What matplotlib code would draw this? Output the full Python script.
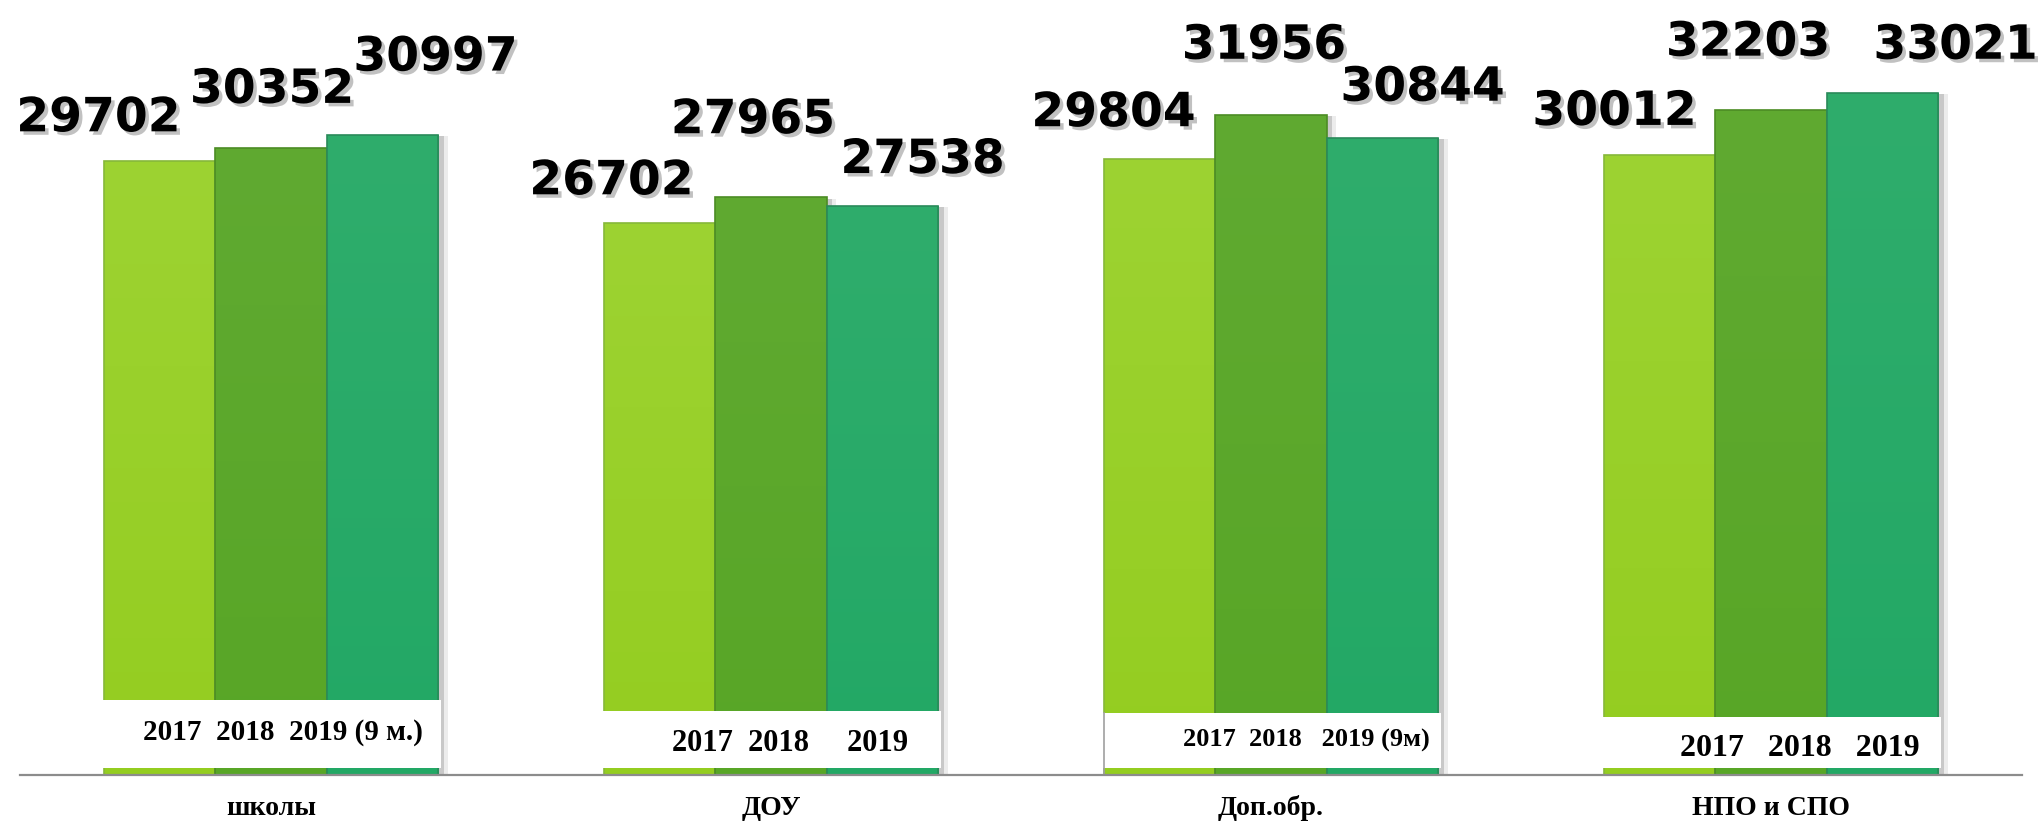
import matplotlib
matplotlib.use("Agg")
import matplotlib.pyplot as plt
import matplotlib.patheffects as pe
from matplotlib.patches import Rectangle
from matplotlib.colors import to_rgb
import numpy as np

# ---- data ----
categories = ["школы", "ДОУ", "Доп.обр.", "НПО и СПО"]
years_labels = ["2017  2018  2019 (9 м.)", "2017  2018     2019",
                "2017  2018   2019 (9м)", "2017   2018   2019"]
v2017 = [29702, 26702, 29804, 30012]
v2018 = [30352, 27965, 31956, 32203]
v2019 = [30997, 27538, 30844, 33021]

# ---- style / layout ----
top_colors = ["#9DD332", "#60AA31", "#2FAD6C"]
bottom_colors = ["#94CD20", "#58A626", "#22A865"]
edges = ["#86B83A", "#4C8C24", "#2A8A5A"]
W, H = 2041, 822
DPI = 100
fig = plt.figure(figsize=(W / DPI, H / DPI), dpi=DPI)
ax_left, ax_right, ax_base = 20, 2022, 775
ax = fig.add_axes([ax_left / W, (H - ax_base) / H, (ax_right - ax_left) / W, ax_base / H])
units_per_px = 48.4
YMAX = ax_base * units_per_px
XLIM = (-0.502, 3.502)
px_x = 1 / 500.0  # data units per pixel horizontally

bw = 0.223
x = np.arange(len(categories))
series = [v2017, v2018, v2019]

# value label offsets (px): dx from bar centre, gap above bar top
label_offsets = [
    [(-61, 30), (1, 45), (53, 64)],
    [(-48, 29), (-18, 64), (40, 33)],
    [(-46, 33), (-7, 56), (40, 37)],
    [(-45, 30), (-23, 54), (73, 34)],
]

bar_shadow = [pe.SimplePatchShadow(offset=(7, -1), shadow_rgbFace="#999999", alpha=0.18),
              pe.SimplePatchShadow(offset=(4, -1), shadow_rgbFace="#777777", alpha=0.3),
              pe.Normal()]
text_shadow = [pe.SimplePatchShadow(offset=(2.5, -2.5), shadow_rgbFace="#777777", alpha=0.45),
               pe.Normal()]

for j, vals in enumerate(series):
    bars = ax.bar(x + (j - 1) * bw, vals, width=bw, color=bottom_colors[j],
                  edgecolor="none", linewidth=0, zorder=2 + j)
    grad = np.linspace(np.array(to_rgb(top_colors[j])), np.array(to_rgb(bottom_colors[j])), 256)[:, None, :]
    for i, b in enumerate(bars):
        b.set_path_effects(bar_shadow)
        x0, x1 = b.get_x(), b.get_x() + b.get_width()
        im = ax.imshow(grad, extent=[x0, x1, 0, b.get_height()], aspect="auto",
                       interpolation="bilinear", zorder=2 + j + 0.1)
        im.set_clip_path(b)
        ax.add_patch(Rectangle((x0, 0), b.get_width(), b.get_height(), fill=False,
                               edgecolor=edges[j], linewidth=1.2, zorder=2 + j + 0.2))
        dx, gap = label_offsets[i][j]
        ax.annotate(f"{vals[i]}", xy=((x0 + x1) / 2, b.get_height()),
                    xytext=(dx * 72 / DPI, gap * 72 / DPI), textcoords="offset points",
                    ha="center", va="baseline", fontsize=34, fontweight="bold",
                    fontfamily="DejaVu Sans", color="black", zorder=10,
                    path_effects=text_shadow)

# white boxes with year labels inside the bars' lower part
box_tops_px = [700, 711, 713, 717]
box_bottom_px = 768
year_dx_px = [12, 19, 35, 29]
year_y_px = [732, 743, 740, 748]
year_fs = [21, 22, 19, 23]
for i in range(len(categories)):
    x0 = x[i] - 1.5 * bw
    y0 = (ax_base - box_bottom_px) * units_per_px
    hgt = (box_bottom_px - box_tops_px[i]) * units_per_px
    ax.add_patch(Rectangle((x0 - 2 * px_x, y0), 3 * bw + 5 * px_x, hgt, facecolor="white",
                           edgecolor="none", zorder=6))
    if i == 2:
        ax.plot([x0, x0], [0, y0 + hgt], color="#A0A0A0", lw=1.2, zorder=7)
    ax.text(x[i] + year_dx_px[i] * px_x, (ax_base - year_y_px[i]) * units_per_px,
            years_labels[i], ha="center", va="center", fontsize=year_fs[i],
            fontweight="bold", fontfamily="Liberation Serif", zorder=8)

# category labels below the axis
for i, c in enumerate(categories):
    ax.text(x[i], (ax_base - 808) * units_per_px, c, ha="center", va="center",
            fontsize=20, fontweight="bold", fontfamily="Liberation Serif", clip_on=False)

ax.set_xlim(*XLIM)
ax.set_ylim(0, YMAX)
for s in ["top", "left", "right"]:
    ax.spines[s].set_visible(False)
ax.spines["bottom"].set_color("#8C8C8C")
ax.spines["bottom"].set_linewidth(1.6)
ax.spines["bottom"].set_zorder(9)
ax.set_xticks([])
ax.set_yticks([])
ax.patch.set_alpha(0)

fig.savefig("out.png", dpi=DPI, facecolor="white")
